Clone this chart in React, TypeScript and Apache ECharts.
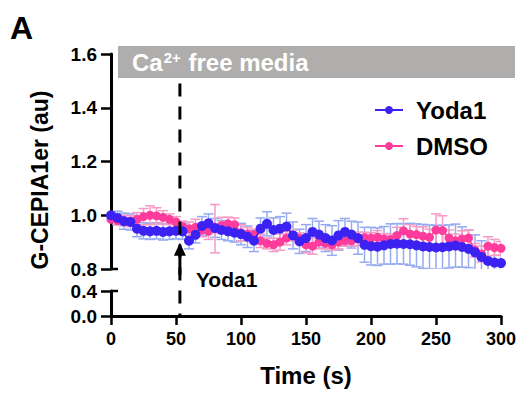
import React, { useEffect, useRef } from "react";
import * as echarts from "echarts";

const FONT = "'Liberation Sans', Arial, sans-serif";

const TIME = [
  0, 5, 10, 15, 20, 25, 30, 35, 40, 45, 50, 55, 60, 65, 70, 75, 80, 85, 90, 95,
  100, 105, 110, 115, 120, 125, 130, 135, 140, 145, 150, 155, 160, 165, 170, 175,
  180, 185, 190, 195, 200, 205, 210, 215, 220, 225, 230, 235, 240, 245, 250, 255,
  260, 265, 270, 275, 280, 285, 290, 295, 300,
];

const YODA1_MEAN = [
  1.0, 0.99, 0.978, 0.975, 0.95, 0.942, 0.94, 0.942, 0.938, 0.94, 0.942, 0.94,
  0.905, 0.927, 0.96, 0.97, 0.953, 0.945, 0.94, 0.935, 0.93, 0.92, 0.905, 0.95,
  0.968, 0.945, 0.95, 0.958, 0.925, 0.903, 0.915, 0.938, 0.928, 0.915, 0.906,
  0.925, 0.938, 0.928, 0.915, 0.89, 0.885, 0.883, 0.888, 0.893, 0.894, 0.893,
  0.892, 0.888, 0.884, 0.882, 0.88, 0.881, 0.884, 0.887, 0.882, 0.875, 0.862,
  0.845, 0.83, 0.824, 0.822,
];

const YODA1_SEM = [
  0.01, 0.025, 0.03, 0.03, 0.03, 0.03, 0.03, 0.03, 0.03, 0.03, 0.03, 0.03, 0.03,
  0.03, 0.035, 0.035, 0.035, 0.035, 0.035, 0.035, 0.04, 0.04, 0.04, 0.04, 0.045,
  0.045, 0.045, 0.05, 0.05, 0.045, 0.05, 0.05, 0.05, 0.05, 0.055, 0.055, 0.05,
  0.05, 0.06, 0.065, 0.07, 0.07, 0.07, 0.075, 0.075, 0.075, 0.078, 0.08, 0.082,
  0.082, 0.082, 0.082, 0.08, 0.08, 0.075, 0.07, 0.065, 0.06, 0.055, 0.05, 0.05,
];

const DMSO_MEAN = [
  0.985, 0.98, 0.98, 0.978, 0.985, 0.995, 1.0, 0.998, 0.992, 0.985, 0.975, 0.958,
  0.95, 0.955, 0.945, 0.94, 0.95, 0.962, 0.968, 0.965, 0.935, 0.93, 0.928, 0.905,
  0.895, 0.89, 0.9, 0.915, 0.925, 0.915, 0.89, 0.885, 0.9, 0.895, 0.89, 0.9,
  0.905, 0.905, 0.912, 0.917, 0.915, 0.918, 0.912, 0.91, 0.925, 0.942, 0.93,
  0.928, 0.922, 0.918, 0.945, 0.943, 0.915, 0.905, 0.912, 0.915, 0.87, 0.856,
  0.885, 0.88, 0.877,
];

const DMSO_SEM = [
  0.01, 0.015, 0.02, 0.02, 0.025, 0.03, 0.035, 0.03, 0.025, 0.02, 0.02, 0.02,
  0.025, 0.03, 0.025, 0.03, 0.09, 0.03, 0.025, 0.025, 0.03, 0.025, 0.02, 0.025,
  0.02, 0.025, 0.03, 0.025, 0.02, 0.02, 0.03, 0.03, 0.025, 0.02, 0.02, 0.025,
  0.02, 0.02, 0.025, 0.02, 0.02, 0.025, 0.02, 0.02, 0.03, 0.045, 0.035, 0.03,
  0.035, 0.03, 0.06, 0.055, 0.03, 0.025, 0.03, 0.03, 0.025, 0.03, 0.035, 0.03,
  0.025,
];

const SERIES_NAMES = ["Yoda1", "DMSO"];
const DRUG_TIME = 53;
const ARROW_TIP_VALUE = 0.898;
const DASH_TOP_VALUE = 1.49;

const BLUE = "#3b22f2";
const PINK = "#ff3c9c";
const BLUE_ERR = "#94aaf2";
const PINK_ERR = "#f59bc4";

function errorSeries(mean: number[], sem: number[], color: string, z: number) {
  return {
    type: "custom",
    xAxisIndex: 0,
    yAxisIndex: 0,
    clip: true,
    z,
    silent: true,
    encode: { x: 0, y: [1, 2] },
    data: TIME.map((t, i) => [t, mean[i] - sem[i], mean[i] + sem[i]]),
    renderItem: (params: any, api: any) => {
      const x = api.value(0);
      const lo = api.coord([x, api.value(1)]);
      const hi = api.coord([x, api.value(2)]);
      const w = 5;
      const st = { stroke: color, lineWidth: 1.5 };
      return {
        type: "group",
        children: [
          { type: "line", shape: { x1: hi[0], y1: hi[1], x2: lo[0], y2: lo[1] }, style: st },
          { type: "line", shape: { x1: hi[0] - w, y1: hi[1], x2: hi[0] + w, y2: hi[1] }, style: st },
          { type: "line", shape: { x1: lo[0] - w, y1: lo[1], x2: lo[0] + w, y2: lo[1] }, style: st },
        ],
      };
    },
  };
}

export default function App() {
  const ref = useRef<HTMLDivElement>(null);
  useEffect(() => {
    const chart = echarts.init(ref.current as HTMLDivElement, null, { renderer: "svg" });
    const axisLine = { show: true, onZero: false, lineStyle: { color: "#000", width: 3 } };
    const axisTick = { show: true, inside: false, length: 10, lineStyle: { color: "#000", width: 2.5 } };
    const axisLabel = {
      color: "#000",
      fontSize: 19,
      fontWeight: "bold",
      fontFamily: FONT,
      margin: 14,
      formatter: (v: number) => v.toFixed(1),
    };
    const option: any = {
      animation: false,
      grid: [
        { left: 111, top: 54, width: 390, height: 215 },
        { left: 111, top: 291, width: 390, height: 25 },
      ],
      xAxis: [
        { gridIndex: 0, type: "value", min: 0, max: 300, interval: 50, show: false },
        {
          gridIndex: 1,
          type: "value",
          min: 0,
          max: 300,
          interval: 50,
          axisLine: { show: true, lineStyle: { color: "#000", width: 3 } },
          axisTick: { show: true, length: 9, lineStyle: { color: "#000", width: 2.5 } },
          axisLabel: { color: "#000", fontSize: 18, fontWeight: "bold", fontFamily: FONT, margin: 14 },
          splitLine: { show: false },
        },
      ],
      yAxis: [
        {
          gridIndex: 0,
          type: "value",
          min: 0.8,
          max: 1.6,
          interval: 0.2,
          axisLine,
          axisTick,
          axisLabel,
          splitLine: { show: false },
        },
        {
          gridIndex: 1,
          type: "value",
          min: 0,
          max: 0.4,
          interval: 0.4,
          axisLine,
          axisTick,
          axisLabel,
          splitLine: { show: false },
        },
      ],
      legend: {
        data: SERIES_NAMES,
        orient: "vertical",
        left: 369,
        top: 93,
        itemWidth: 28,
        itemHeight: 10,
        itemGap: 12,
        textStyle: {
          fontSize: 24,
          fontWeight: "bold",
          fontFamily: FONT,
          color: "#000",
          padding: [0, 0, 0, 8],
        },
      },
      series: [
        errorSeries(YODA1_MEAN, YODA1_SEM, BLUE_ERR, 1),
        errorSeries(DMSO_MEAN, DMSO_SEM, PINK_ERR, 1),
        {
          name: "DMSO",
          type: "line",
          xAxisIndex: 0,
          yAxisIndex: 0,
          data: TIME.map((t, i) => [t, DMSO_MEAN[i]]),
          symbol: "circle",
          symbolSize: 9,
          itemStyle: { color: PINK },
          lineStyle: { color: PINK, width: 1.5 },
          z: 3,
        },
        {
          name: "Yoda1",
          type: "line",
          xAxisIndex: 0,
          yAxisIndex: 0,
          data: TIME.map((t, i) => [t, YODA1_MEAN[i]]),
          symbol: "circle",
          symbolSize: 10,
          itemStyle: { color: BLUE },
          lineStyle: { color: BLUE, width: 1.5 },
          z: 4,
        },
      ],
    };
    chart.setOption(option);

    const xd = chart.convertToPixel({ xAxisIndex: 0 }, DRUG_TIME) as number;
    const yTop = chart.convertToPixel({ yAxisIndex: 0 }, DASH_TOP_VALUE) as number;
    const yBottom = chart.convertToPixel({ yAxisIndex: 1 }, 0) as number;
    const yTip = chart.convertToPixel({ yAxisIndex: 0 }, ARROW_TIP_VALUE) as number;
    const yBreakUp = chart.convertToPixel({ yAxisIndex: 0 }, 0.8) as number;
    const yBreakLow = chart.convertToPixel({ yAxisIndex: 1 }, 0.4) as number;
    const xAxis0 = chart.convertToPixel({ xAxisIndex: 0 }, 0) as number;

    const txt = (o: any) => ({
      fontFamily: FONT,
      fontWeight: "bold",
      fill: "#000",
      ...o,
    });

    chart.setOption({
      graphic: [
        { type: "rect", shape: { x: 118, y: 46, width: 397, height: 32 }, style: { fill: "#b0aeac" }, z: 10 },
        {
          type: "text",
          x: 132,
          y: 62,
          z: 11,
          style: {
            text: "{a|Ca}{s|2+}{a| free media}",
            verticalAlign: "middle",
            textVerticalAlign: "middle",
            rich: {
              a: { fontSize: 24, fontWeight: "bold", fontFamily: FONT, fill: "#fff", color: "#fff" },
              s: { fontSize: 15, fontWeight: "bold", fontFamily: FONT, fill: "#fff", color: "#fff", verticalAlign: "top", padding: [0, 1, 0, 1] },
            },
          },
        },
        { type: "text", x: 10, y: 12, z: 11, style: txt({ text: "A", fontSize: 32 }) },
        {
          type: "text",
          x: 40,
          y: 180,
          rotation: Math.PI / 2,
          z: 11,
          style: txt({ text: "G-CEPIA1er (au)", fontSize: 23, align: "center", textAlign: "center", verticalAlign: "middle", textVerticalAlign: "middle" }),
        },
        {
          type: "text",
          x: 306,
          y: 375,
          z: 11,
          style: txt({ text: "Time (s)", fontSize: 24, align: "center", textAlign: "center", verticalAlign: "middle", textVerticalAlign: "middle" }),
        },
        {
          type: "line",
          z: 20,
          shape: { x1: xd, y1: yTop, x2: xd, y2: yBottom },
          style: { stroke: "#000", lineWidth: 3, lineDash: [13, 10] },
        },
        {
          type: "line",
          z: 21,
          shape: { x1: xd, y1: yTip + 10, x2: xd, y2: yBreakUp + 6 },
          style: { stroke: "#000", lineWidth: 3 },
        },
        {
          type: "polygon",
          z: 21,
          shape: { points: [[xd, yTip], [xd - 6, yTip + 13], [xd + 6, yTip + 13]] },
          style: { fill: "#000" },
        },
        {
          type: "text",
          x: xd + 16,
          y: yBreakUp + 10,
          z: 21,
          style: txt({ text: "Yoda1", fontSize: 21, verticalAlign: "middle", textVerticalAlign: "middle" }),
        },
        {
          type: "line",
          z: 21,
          shape: { x1: xAxis0, y1: yBreakUp, x2: xAxis0 + 7, y2: yBreakUp },
          style: { stroke: "#000", lineWidth: 2.5 },
        },
        {
          type: "line",
          z: 21,
          shape: { x1: xAxis0, y1: yBreakLow, x2: xAxis0 + 7, y2: yBreakLow },
          style: { stroke: "#000", lineWidth: 2.5 },
        },
      ],
    });

    return () => chart.dispose();
  }, []);
  return (
    <div
      ref={ref}
      style={{ position: "absolute", left: 0, top: 0, width: 521, height: 395, background: "#fff" }}
    />
  );
}
